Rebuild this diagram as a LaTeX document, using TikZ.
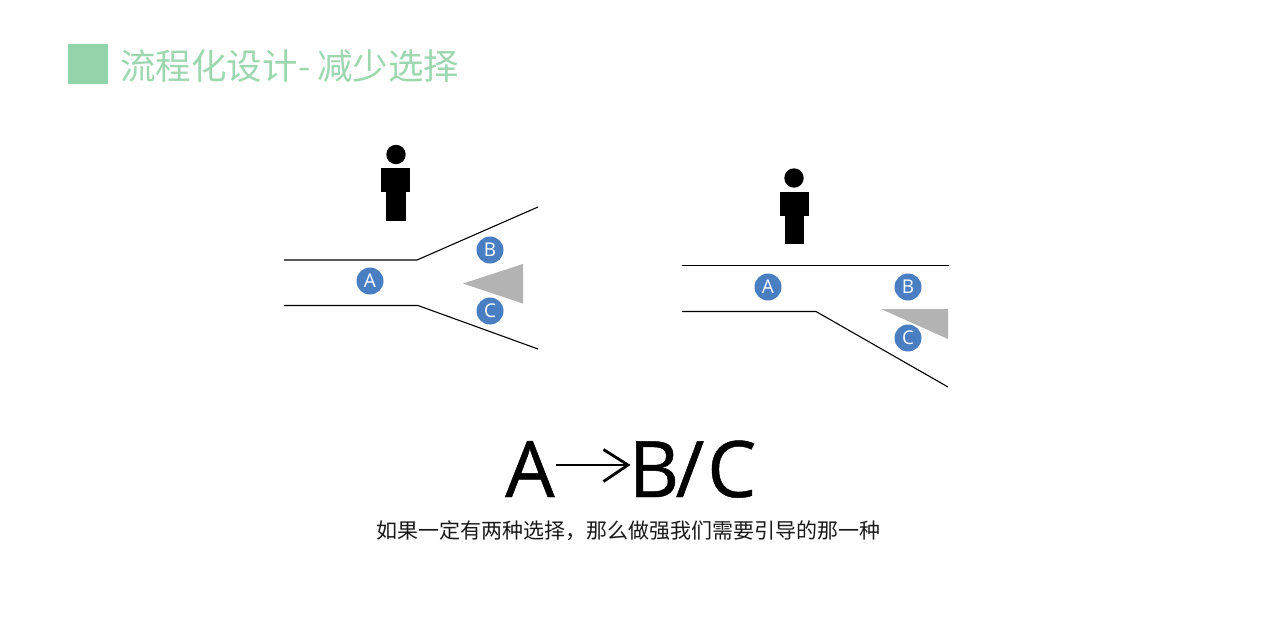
\documentclass[tikz,border=0pt]{standalone}
\usepackage{fontspec}
\setmainfont{Open Sans}
\newfontfamily\cjk{Noto Sans CJK SC}
\newfontfamily\bigfont[FakeBold=0.6]{Open Sans}
\definecolor{mint}{HTML}{93D5A8}
\definecolor{minttext}{HTML}{9CD7AF}
\definecolor{badgeblue}{HTML}{4A7EC2}
\definecolor{wedge}{HTML}{B3B3B3}
\tikzset{
  road/.style={draw=black,line width=1.1pt,line join=miter},
  badge/.style={circle,fill=badgeblue,draw=none,minimum size=27pt,inner sep=0pt,text=white,font=\fontsize{19}{19}\selectfont},
  wedgeshape/.style={fill=wedge,draw=none},
  figure part/.style={fill=black,draw=none},
  bigletter/.style={inner sep=0pt,anchor=base west,font=\bigfont\fontsize{78}{78}\selectfont},
  titletext/.style={inner sep=0pt,anchor=base west,text=minttext,font=\cjk\fontsize{35.5}{36}\selectfont},
}
\begin{document}
\begin{tikzpicture}[x=1pt,y=-1pt]
\useasboundingbox (0,0) rectangle (1280,640);
% title
\fill[mint] (68,44) rectangle (108,84);
\node[titletext] (t1) at (120,79) {流程化设计};
\node[titletext] (t2) at (298,79) {-};
\node[titletext] (t3) at (317,79) {减少选择};
% left person
\fill[figure part] (396,154.5) circle (9.7);
\fill[figure part] (381,168) rectangle (410,192);
\fill[figure part] (386,192) rectangle (405.5,221);
% right person
\fill[figure part] (794,178) circle (9.7);
\fill[figure part] (780,192) rectangle (808.5,216);
\fill[figure part] (785,216) rectangle (804,244);
% left road
\coordinate (la) at (284,260);
\coordinate (lb) at (417,260);
\coordinate (lc) at (538,207);
\coordinate (ld) at (284,305.5);
\coordinate (le) at (418,305.5);
\coordinate (lf) at (538,349);
\draw[road] (la) -- (lb) -- (lc);
\draw[road] (ld) -- (le) -- (lf);
\fill[wedgeshape] (463,283.5) -- (523,264) -- (523,303.5) -- cycle;
\node[badge] (a1) at (370,281) {A};
\node[badge] (b1) at (490,250) {B};
\node[badge] (c1) at (490,311) {C};
% right road
\coordinate (ra) at (682,265.5);
\coordinate (rb) at (949,265.5);
\coordinate (rc) at (682,311.5);
\coordinate (rd) at (816,311.5);
\coordinate (re) at (948,387);
\draw[road] (ra) -- (rb);
\draw[road] (rc) -- (rd) -- (re);
\fill[wedgeshape] (881,309) -- (948,309) -- (948,339) -- cycle;
\node[badge] (a2) at (768,287) {A};
\node[badge] (b2) at (908,287) {B};
\node[badge] (c2) at (908,338) {C};
% formula
\node[bigletter] (fa) at (505,497) {A};
\node[bigletter] (fb) at (628.5,497) {B};
\node[bigletter] (fs) at (675.5,497) {/};
\node[bigletter] (fc) at (707,497) {C};
\coordinate (arrowstart) at (556,465);
\coordinate (arrowtip) at (628,465);
\coordinate (headup) at (603.5,449.5);
\coordinate (headdn) at (603.5,481.5);
\draw[line width=1.8pt] (arrowstart) -- (arrowtip);
\draw[line width=2.8pt,miter limit=10] (headup) -- (arrowtip) -- (headdn);
\node[inner sep=0pt,text=black!90,font=\cjk\fontsize{21}{22}\selectfont] (sub) at (628,531) {如果一定有两种选择，那么做强我们需要引导的那一种};
\end{tikzpicture}
\end{document}
